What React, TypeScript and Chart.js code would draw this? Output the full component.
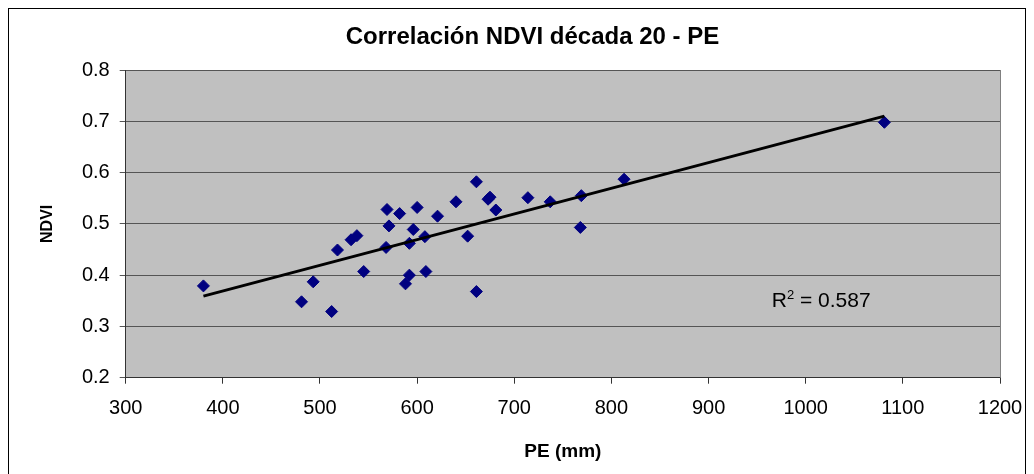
import React, { useEffect, useRef } from "react";
import { Chart, registerables } from "chart.js";

Chart.register(...registerables);

const chartTitle = "Correlación NDVI década 20 - PE";
const xAxisTitle = "PE (mm)";
const yAxisTitle = "NDVI";

// PE (mm) values
const peValues = [
  380, 481, 493, 512, 518, 532, 538, 545, 568, 569, 571, 582, 592, 596, 600, 608,
  592, 588, 609, 621, 640, 652, 661, 661, 673, 675, 681, 714, 737, 769, 768, 813, 1081,
];
// NDVI values
const ndviValues = [
  0.379, 0.348, 0.387, 0.329, 0.449, 0.469, 0.477, 0.407, 0.454, 0.528, 0.496, 0.52,
  0.462, 0.489, 0.532, 0.475, 0.4, 0.383, 0.407, 0.515, 0.543, 0.476, 0.582, 0.368,
  0.548, 0.552, 0.527, 0.551, 0.543, 0.555, 0.493, 0.587, 0.698,
];

// Linear trend line end points
const trendX = [380, 1081];
const trendY = [0.359, 0.71];

const r2Text = "0.587";
const r2Pos = { x: 965, y: 0.349 };

const xMin = 300;
const xMax = 1200;
const xStep = 100;
const yMin = 0.2;
const yMax = 0.8;
const yStep = 0.1;

const FONT = "'Liberation Sans', Arial, Helvetica, sans-serif";

const W = 1016;
const H = 470;

export default function App() {
  const ref = useRef<HTMLCanvasElement | null>(null);

  useEffect(() => {
    const canvas = ref.current;
    if (!canvas) return;

    const bgPlugin = {
      id: "plotBg",
      beforeDraw(chart: any) {
        const { ctx, chartArea: a } = chart;
        ctx.save();
        ctx.fillStyle = "#ffffff";
        ctx.fillRect(0, 0, chart.width, chart.height);
        ctx.fillStyle = "#c0c0c0";
        ctx.fillRect(a.left, a.top, a.right - a.left, a.bottom - a.top);
        ctx.restore();
      },
      afterDraw(chart: any) {
        const { ctx, chartArea: a } = chart;
        ctx.save();
        // right border of plot
        ctx.strokeStyle = "#808080";
        ctx.lineWidth = 1;
        ctx.beginPath();
        ctx.moveTo(Math.round(a.right) + 0.5, a.top);
        ctx.lineTo(Math.round(a.right) + 0.5, a.bottom);
        ctx.stroke();
        // title
        ctx.fillStyle = "#000";
        ctx.font = `bold 24px ${FONT}`;
        ctx.textAlign = "center";
        ctx.textBaseline = "middle";
        ctx.fillText(chartTitle, 523.5, 28);
        // R^2 label
        const xs = chart.scales.x;
        const ys = chart.scales.y;
        let px = xs.getPixelForValue(r2Pos.x);
        const py = ys.getPixelForValue(r2Pos.y);
        ctx.textAlign = "left";
        ctx.font = `21px ${FONT}`;
        ctx.fillText("R", px, py);
        px += ctx.measureText("R").width;
        ctx.font = `13px ${FONT}`;
        ctx.fillText("2", px, py - 6);
        px += ctx.measureText("2").width;
        ctx.font = `21px ${FONT}`;
        ctx.fillText(" = " + r2Text, px, py);
        ctx.restore();
      },
    };

    const chart = new Chart(canvas, {
      type: "scatter",
      data: {
        datasets: [
          {
            type: "line",
            label: "Trend",
            data: trendX.map((x, i) => ({ x, y: trendY[i] })),
            borderColor: "#000000",
            borderWidth: 3,
            pointRadius: 0,
            fill: false,
            tension: 0,
          } as any,
          {
            label: "NDVI",
            data: peValues.map((x, i) => ({ x, y: ndviValues[i] })),
            backgroundColor: "#000080",
            borderColor: "#000080",
            borderWidth: 1,
            pointStyle: "rectRot",
            pointRadius: 6,
          },
        ],
      },
      options: {
        responsive: false,
        animation: false,
        layout: { padding: { top: 61, right: 25, bottom: 0, left: 0 } },
        plugins: {
          legend: { display: false },
          tooltip: { enabled: false },
          title: { display: false },
        },
        scales: {
          x: {
            type: "linear",
            min: xMin,
            max: xMax,
            ticks: {
              stepSize: xStep,
              color: "#000",
              font: { family: FONT, size: 20 },
              padding: 13,
              maxRotation: 0,
              autoSkip: false,
              callback: (v: any) => String(Math.round(Number(v))),
            },
            grid: {
              drawOnChartArea: false,
              drawTicks: true,
              tickLength: 6,
              color: "#333",
            },
            border: { display: true, color: "#333", width: 1 },
            title: {
              display: true,
              text: xAxisTitle,
              color: "#000",
              font: { family: FONT, size: 19, weight: "bold" },
              padding: { top: 0, bottom: 16 },
            },
            afterFit(scale: any) {
              scale.height = 101.3;
              scale.paddingRight = 0;
            },
          },
          y: {
            type: "linear",
            min: yMin,
            max: yMax,
            ticks: {
              stepSize: yStep,
              color: "#000",
              font: { family: FONT, size: 20 },
              padding: 10,
              callback: (v: any) => Number(v).toFixed(1),
            },
            grid: {
              drawOnChartArea: true,
              drawTicks: true,
              tickLength: 6,
              color: "#555",
            },
            border: { display: true, color: "#333", width: 1 },
            title: {
              display: true,
              text: yAxisTitle,
              color: "#000",
              font: { family: FONT, size: 16, weight: "bold" },
              padding: { top: 29, bottom: 0 },
            },
            afterFit(scale: any) {
              scale.width = 116.7;
            },
          },
        },
      },
      plugins: [bgPlugin],
    });

    return () => chart.destroy();
  }, []);

  return (
    <div
      style={{
        width: W,
        height: H,
        border: "1px solid #000",
        background: "#fff",
      }}
    >
      <canvas ref={ref} width={W} height={H} style={{ display: "block" }} />
    </div>
  );
}
